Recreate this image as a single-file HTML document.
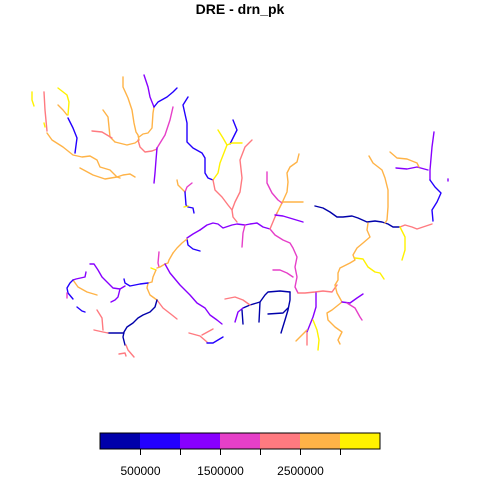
<!DOCTYPE html>
<html><head><meta charset="utf-8"><style>
html,body{margin:0;padding:0;background:#fff;}
svg{display:block;font-family:"Liberation Sans",sans-serif;}
</style></head><body>
<svg id="chart" width="480" height="480" viewBox="0 0 480 480">
<text x="240" y="14" text-anchor="middle" font-size="14" font-weight="bold">DRE - drn_pk</text>
<g id="rivers" fill="none" stroke-width="1.4" stroke-linejoin="round" stroke-linecap="round"></g>
<g id="legend"></g>
</svg>
<script>
const breaks = [0,500000,1000000,1500000,2000000,2500000,3000000,3500000];
const palette = ["#0000AA","#2300FF","#8800FF","#E63FC8","#FF7A80","#FFB347","#FFF200"];
const tickValues = [500000,1000000,1500000,2000000,2500000,3000000];
const tickLabels = ["500000","","1500000","","2500000",""];
const segValues = [
3250000,2250000,3250000,3250000,750000,2750000,2750000,2750000,2750000,2250000,
2750000,2750000,2250000,2750000,1250000,750000,1750000,1250000,750000,750000,
3250000,3250000,2250000,2250000,1250000,1750000,1750000,2250000,2750000,2250000,
1750000,2750000,1250000,1750000,250000,2750000,2750000,3250000,2250000,3250000,
1250000,750000,1250000,2750000,1250000,2750000,1250000,1750000,1250000,3250000,
2750000,2250000,250000,250000,1250000,250000,250000,250000,2250000,2750000,
1750000,750000,3250000,750000,1250000,2750000,1750000,2750000,1250000,3250000,
2750000,2250000,250000,250000,2250000,2250000,2250000,2250000,750000,1250000,
1250000,2750000,1250000,750000,1750000,750000,2250000,2250000,750000
];
const segCoords = [
"32,92 32,100 34,106","44,92 45,110 47,131","44,123 45,127","58,88 67,95 69,102 68,115","68,118 73,128 77,138 75,153","58,105 63,110 67,115",
"47,133 52,140 63,147 73,155 82,157 90,156 97,160 100,167 110,170 117,177 120,178","80,168 93,175 105,179 117,177 123,175 130,174 135,177",
"103,110 108,117 110,137 115,142","92,131 102,132 112,138",
"115,142 127,145 135,143 139,140",
"123,77 123,87 128,98 132,110 134,123 136,132 138,135 139,140","138,140 140,147 145,152 152,151 157,149",
"139,137 143,134 148,133 152,128 153,113 154,107","144,75 148,87 150,97 154,107","154,107 158,102 167,97 173,92 177,88",
"173,107 170,120 165,135 157,148","157,148 156,160 155,173 154,183",
"188,97 183,105 187,123 187,142 193,148 202,153 205,158 205,173 208,178 213,180",
"233,120 237,130 233,138 230,144",
"218,130 223,138 227,145 220,163 218,173 213,180","227,145 232,143 242,143",
"213,180 215,190 222,197 228,205 232,210 233,217 237,222","252,140 245,147 240,160 242,178 240,192 235,202 232,210",
"200,230 207,225 213,223 218,224 223,228 232,225 237,224 245,225 250,224 257,223 263,227 270,229","245,225 243,233 242,247",
"270,229 275,235 283,240 290,243 293,248 297,257 295,267 297,277 295,287 298,293","298,293 305,293 315,292 323,291 332,292 337,285",
"299,154 297,162 290,167 287,173 288,182 287,192 282,203 277,213","277,213 275,217 270,229",
"267,172 267,183 272,193 278,200 282,203",
"282,202 303,202","275,215 283,216 293,219 303,222","273,270 280,270 287,273 293,277",
"315,206 323,208 330,212 337,217 343,217 352,216 358,218 367,222 375,221 382,222 388,224 393,227 400,227",
"369,156 373,163 382,170 385,178 388,190 388,207 387,220 385,223",
"368,223 367,230 370,237 363,243 357,248 353,255 355,260 350,263 340,268 338,273 338,280 335,285",
"355,258 363,259 368,267 375,272 380,273 384,279","400,227 405,225 412,227 417,229 423,227 432,224","400,227 405,237 405,250 402,260",
"434,132 432,147 430,170 430,180","430,180 435,187 441,193 437,202 432,210 433,221","396,168 407,169 417,167 428,170",
"390,152 397,158 407,159 417,163 419,167","448,179 448,181",
"335,285 337,293 342,302 332,310 327,313 328,320 335,327 342,332 338,340 340,344","342,302 350,303 357,298 363,294",
"347,303 355,308 360,317 362,320","316,293 316,307 313,317 309,327 307,332","313,320 317,330 319,340 318,350",
"307,330 302,335 296,341","307,333 307,345",
"290,292 290,300 288,310 285,320 281,333","290,292 280,291 268,292 265,295 260,302 250,305 243,308","243,308 238,312 235,322",
"260,302 259,322","242,310 243,324","288,308 283,313 268,314","225,299 235,297 243,300 250,305",
"177,180 178,185 183,190 185,192",
"192,183 187,187 185,192","185,192 186,205 188,207 193,208 194,213","184,207 188,206",
"187,239 188,245 193,249 200,251","187,238 193,234 200,230","187,239 182,243 177,248 173,253","159,252 158,263 159,267",
"173,253 169,260 168,263 165,264 160,267 157,268",
"165,264 170,273 180,285 190,295 197,303 205,308 210,315 217,320 222,324","151,268 156,270",
"156,270 153,277 152,282 148,283 147,288 150,295 157,300","157,300 163,308 172,315 177,319",
"157,300 155,307 150,312 143,315 138,318 133,323 127,327 124,332 123,337 125,345","124,333 120,333 108,333",
"108,333 103,332 94,330","103,330 102,318 97,310","126,345 128,350 134,357","119,354 125,353 126,356",
"148,283 140,284 130,286 125,283 124,279","125,286 120,289 113,288 108,283 102,277 98,270 94,264 90,264",
"120,289 118,297 115,300 111,302","73,280 78,287 87,292 97,295","86,272 85,277 76,279 73,280",
"73,280 70,283 67,288 68,293 73,299","67,293 67,298","77,307 82,311 85,312",
"189,333 200,336 207,342","202,335 213,329","207,343 213,343 223,337"
];
function colorFor(v){
  for(let i=0;i<palette.length;i++){ if(v<breaks[i+1]) return palette[i]; }
  return palette[palette.length-1];
}
const NS="http://www.w3.org/2000/svg";
const g=document.getElementById('rivers');
segCoords.forEach((pts,i)=>{
  const p=document.createElementNS(NS,'polyline');
  p.setAttribute('points',pts);
  p.setAttribute('stroke',colorFor(segValues[i]));
  
  
  g.appendChild(p);
});
const L=document.getElementById('legend');
const lx0=100,lx1=380,ly=433,lh=16;
const sx=v=>lx0+(v-breaks[0])/(breaks[breaks.length-1]-breaks[0])*(lx1-lx0);
palette.forEach((c,i)=>{
  const r=document.createElementNS(NS,'rect');
  r.setAttribute('x',sx(breaks[i]));r.setAttribute('y',ly);
  r.setAttribute('width',sx(breaks[i+1])-sx(breaks[i]));r.setAttribute('height',lh);
  r.setAttribute('fill',c);
  
  
  L.appendChild(r);
});
const box=document.createElementNS(NS,'rect');
box.setAttribute('x',lx0);box.setAttribute('y',ly);box.setAttribute('width',lx1-lx0);box.setAttribute('height',lh);
box.setAttribute('fill','none');box.setAttribute('stroke','#000');box.setAttribute('stroke-width','1');


L.appendChild(box);
tickValues.forEach((v,i)=>{
  const x=Math.round(sx(v))+0.5;
  const t=document.createElementNS(NS,'line');
  t.setAttribute('x1',x);t.setAttribute('x2',x);t.setAttribute('y1',ly+lh);t.setAttribute('y2',ly+lh+6);
  t.setAttribute('stroke','#000');
  
  
  L.appendChild(t);
  if(tickLabels[i]){
    const tx=document.createElementNS(NS,'text');
    tx.setAttribute('x',x);tx.setAttribute('y',475);tx.setAttribute('text-anchor','middle');tx.setAttribute('font-size','12');
    tx.textContent=tickLabels[i];
    
    
    L.appendChild(tx);
  }
});
</script>
</body></html>
